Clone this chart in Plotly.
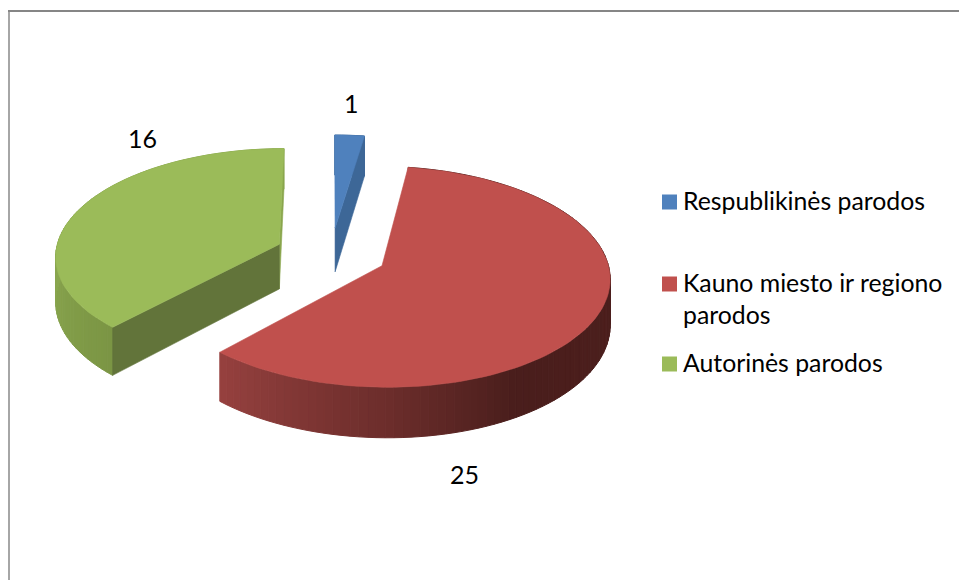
import math
import plotly.graph_objects as go

# ---- data -----
categories = ["Respublikinės parodos", "Kauno miesto ir regiono<br>parodos", "Autorinės parodos"]
values = [1, 25, 16]
top_colors = ["#4f81bd", "#c0504d", "#9bbb59"]
edge_colors = ["#3d6797", "#8f3d3a", "#62743a"]
end_edge_colors = ["#3d6797", "#8f3d3a", "#8aa64d"]
rim_stops = [
    [(0, "#3d6797"), (360, "#3d6797")],
    [(0, "#50211f"), (150, "#4a1e1c"), (180, "#6c2d2b"), (223, "#96413f"), (360, "#96413f")],
    [(0, "#8aa74f"), (223, "#7b9544"), (270, "#8aa74f"), (360, "#8aa74f")],
]
label_xy = [(351.5, 102.5), (464, 473.5), (142.5, 137.5)]
legend_square_x = [669.5, 669.5, 669.5]
legend_square_y = [202, 284, 364]
legend_text_y = [200.5, 298, 362.5]

# ---- projection of the tilted, exploded pie -----
CX, CY = 331, 254
R, KR = 224, 107
P, DEPTH, EXPLODE = 0.099, 45, 0.25


def project(wx, wy, drop=0.0):
    s = 1 / (1 + P * wy)
    return CX + R * wx * s, CY - KR * wy * s + drop * s


def arc(a0, a1, ox, oy, drop=0.0, n=None):
    n = n or max(2, int(abs(a1 - a0) / 2))
    pts = []
    for i in range(n + 1):
        t = math.radians(a0 + (a1 - a0) * i / n)
        pts.append(project(ox + math.sin(t), oy + math.cos(t), drop))
    return pts


def lerp_color(stops, a):
    for (a0, c0), (a1, c1) in zip(stops, stops[1:]):
        if a0 <= a <= a1:
            f = (a - a0) / (a1 - a0)
            rgb = [round(int(c0[i:i + 2], 16) * (1 - f) + int(c1[i:i + 2], 16) * f) for i in (1, 3, 5)]
            return "rgb(%d,%d,%d)" % tuple(rgb)
    return stops[-1][1]


fig = go.Figure()


def poly(pts, color, line=0.6):
    xs = [p[0] for p in pts] + [pts[0][0]]
    ys = [p[1] for p in pts] + [pts[0][1]]
    fig.add_trace(go.Scatter(x=xs, y=ys, mode="lines", fill="toself", fillcolor=color,
                             line=dict(color=color, width=line), showlegend=False, hoverinfo="skip"))


total = sum(values)
start = 0.0
for i, (v, top, edge, end_edge, stops) in enumerate(zip(values, top_colors, edge_colors, end_edge_colors, rim_stops)):
    sweep = 360.0 * v / total
    end = start + sweep
    mid = math.radians(start + sweep / 2)
    ox, oy = EXPLODE * math.sin(mid), EXPLODE * math.cos(mid)
    # outer rim, in short strips so the shading can change along it
    step = 2.0
    a = start
    while a < end - 1e-6:
        b = min(a + step, end)
        upper = arc(a, b, ox, oy, 0, 2)
        lower = arc(b, a, ox, oy, DEPTH, 2)
        poly(upper + lower, lerp_color(stops, (a + b) / 2), 1.0)
        a = b
    # straight cut faces
    apex_t, apex_b = project(ox, oy), project(ox, oy, DEPTH)
    t0, t1 = math.radians(start), math.radians(end)
    s_t = project(ox + math.sin(t0), oy + math.cos(t0))
    s_b = project(ox + math.sin(t0), oy + math.cos(t0), DEPTH)
    e_t = project(ox + math.sin(t1), oy + math.cos(t1))
    e_b = project(ox + math.sin(t1), oy + math.cos(t1), DEPTH)
    if i != 1:
        poly([apex_t, e_t, e_b, apex_b], end_edge)
    if i == 2:
        poly([apex_t, s_t, s_b, apex_b], edge)
    # top face
    poly([apex_t] + arc(start, end, ox, oy), top)
    start = end

# legend: coloured squares and their texts
for sx, sy, color, name in zip(legend_square_x, legend_square_y, top_colors, categories):
    fig.add_trace(go.Scatter(x=[sx], y=[sy], mode="markers", name=name.replace("<br>", " "), showlegend=False,
                             marker=dict(symbol="square", size=15, color=color, line=dict(width=0))))
for name, ty in zip(categories, legend_text_y):
    fig.add_annotation(x=684, y=ty, text=name, showarrow=False, xanchor="left", yanchor="middle", align="left",
                       xshift=-3, font=dict(size=24.8, color="#000000", family="Lato"))

for v, (lx, ly) in zip(values, label_xy):
    fig.add_annotation(x=lx, y=ly, text=str(v), showarrow=False, xanchor="center", yanchor="middle",
                       font=dict(size=25, color="#000000", family="Lato"))

# chart frame (open at right and bottom, as cropped)
fig.add_shape(type="line", x0=9, x1=9, y0=11, y1=580, line=dict(color="#a6a6a6", width=2), layer="below")
fig.add_shape(type="line", x0=8, x1=959, y0=11, y1=11, line=dict(color="#868686", width=2), layer="below")

fig.update_layout(
    width=959, height=580, autosize=False,
    margin=dict(l=0, r=0, t=0, b=0),
    paper_bgcolor="#ffffff", plot_bgcolor="#ffffff",
    xaxis=dict(range=[0, 959], visible=False, fixedrange=True),
    yaxis=dict(range=[580, 0], visible=False, fixedrange=True),
    font=dict(family="Lato", size=23, color="#000000"),
    showlegend=False,
)

fig.write_html("out.html", config={"displayModeBar": False}, post_script="document.body.style.margin='0';")
